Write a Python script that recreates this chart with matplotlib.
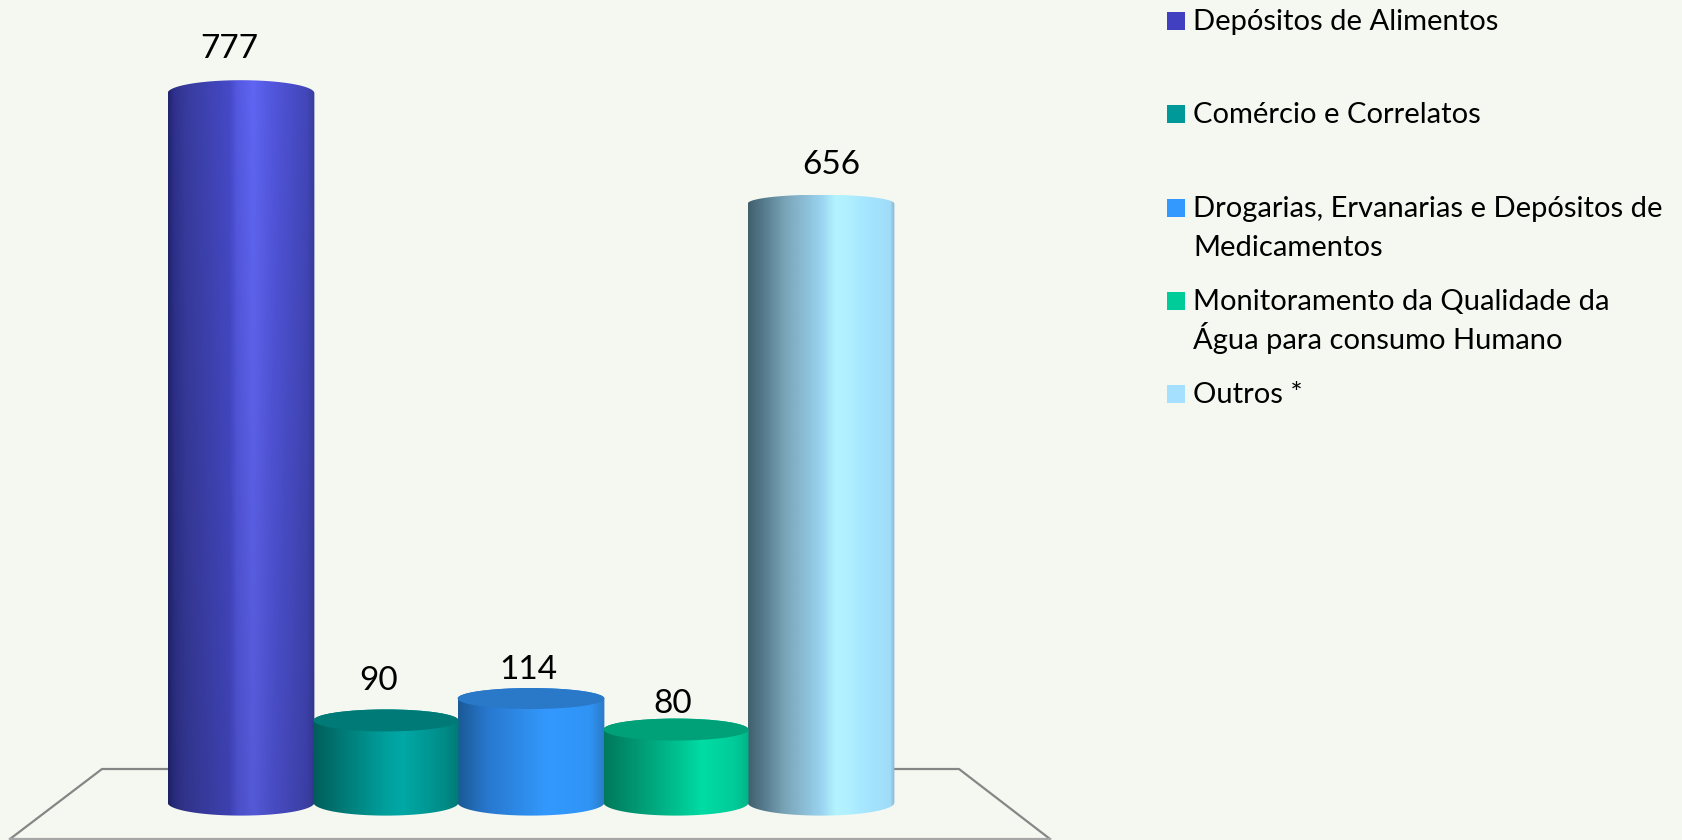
import numpy as np
import matplotlib
matplotlib.use("Agg")
import matplotlib.pyplot as plt
from matplotlib.colors import LinearSegmentedColormap
from matplotlib.patches import Ellipse, PathPatch, Rectangle
from matplotlib.path import Path
from matplotlib.lines import Line2D

plt.rcParams['font.family'] = ['Lato', 'DejaVu Sans']

# data
categories = ["Depósitos de Alimentos", "Comércio e Correlatos",
              "Drogarias, Ervanarias e Depósitos de\nMedicamentos",
              "Monitoramento da Qualidade da\nÁgua para consumo Humano", "Outros *"]
values = [777, 90, 114, 80, 656]
swatch_colors = ["#4040C0", "#009999", "#3399FF", "#00CC99", "#A6E0FF"]

# gradient across each cylinder
stops = [
    [(0, "#1f2266"), (.04, "#2a2d80"), (.12, "#33368f"), (.42, "#3f43b5"), (.47, "#4c50cc"),
     (.58, "#575cdc"), (.72, "#4a4ec8"), (.95, "#3c40a8"), (1, "#34378f")],
    [(0, "#005f5c"), (.2, "#007a76"), (.5, "#00a09d"), (.62, "#00a8a6"), (.9, "#008c88"), (1, "#007a76")],
    [(0, "#1b5a96"), (.2, "#2878cf"), (.5, "#3090f0"), (.62, "#3399ff"), (.9, "#3094f5"), (1, "#2a7cc8")],
    [(0, "#007a5c"), (.2, "#009470"), (.5, "#00c08f"), (.68, "#00dca5"), (.9, "#00cc99"), (1, "#00b488")],
    [(0, "#42606e"), (.1, "#557a8c"), (.25, "#7aa4b8"), (.5, "#9ad4f0"), (.6, "#b4f4ff"),
     (.68, "#b0f0ff"), (.8, "#a6e6ff"), (.97, "#a0dcf8"), (1, "#8cbcd8")],
]
cap_colors = [None, "#007a76", "#2a78c8", "#00a078", None]
top_px = [13, 11, 10.5, 11, 9]
bright_top = [1.1, 1, 1, 1, 1]
bright_bot = [0.97, 1, 1, 1, 1]

# label offsets from the bar centre, label centre height, px
label_dx = [-12, -7, -3, -3, 10]
label_y = [49, 681, 670, 704, 165]

# layout, px
W, H = 1682, 840
X0, STEP = 241, 145.0
Y0, SCALE = 802.6, 0.913
BG = "#F5F8F0"

fig = plt.figure(figsize=(W / 100, H / 100), dpi=100, facecolor=BG)
ax = fig.add_axes([0, 0, 1, 1])
ax.set_facecolor(BG)
ax.axis("off")


def px(x, y):
    # pixel position of the reference -> data coords
    return (x - X0) / STEP, (Y0 - y) / SCALE


# floor
floor = [(168, 769), (102, 769), (10, 839)]
floor2 = [(893, 769), (959, 769), (1050, 839)]
for pts in (floor, floor2):
    xy = np.array([px(*p) for p in pts])
    ax.add_line(Line2D(xy[:, 0], xy[:, 1], color="#868686", lw=1.6, zorder=1))
xy = np.array([px(10, 839.3), px(1050, 839.3)])
ax.add_line(Line2D(xy[:, 0], xy[:, 1], color="#a6a6a6", lw=1.6, zorder=1))

# cylinders, the even ones drawn a hair wider so no seam shows between neighbours
theta = np.linspace(0, np.pi, 60)
bot_semi = 13 / SCALE
for i, val in enumerate(values):
    semi = top_px[i] / SCALE
    hw = 0.5 if i % 2 else 0.506
    top_x = i + hw * np.cos(theta)
    top_y = val + semi * np.sin(theta)
    bot_x = i - hw * np.cos(theta)
    bot_y = -bot_semi * np.sin(theta)
    verts = np.column_stack([np.r_[top_x, bot_x, top_x[0]], np.r_[top_y, bot_y, top_y[0]]])
    outline = Path(verts, closed=False)
    cmap = LinearSegmentedColormap.from_list("c%d" % i, stops[i], N=256)
    grad = cmap(np.linspace(0, 1, 146))[None, :, :3]
    shade = np.linspace(bright_top[i], bright_bot[i], 64)[:, None, None]
    img = np.clip(grad * shade, 0, 1)
    z = 3 if i % 2 else 2
    im = ax.imshow(img, extent=(i - hw, i + hw, -bot_semi, val + semi), aspect="auto",
                   origin="upper", zorder=z, interpolation="bilinear")
    clip = PathPatch(outline, transform=ax.transData, fc="none", ec="none")
    ax.add_patch(clip)
    im.set_clip_path(clip)
    if cap_colors[i]:
        ax.add_patch(Ellipse((i, val), 2 * hw, 2 * semi, fc=cap_colors[i], ec="none", zorder=z))
    lx, ly = px(X0 + i * STEP + label_dx[i], label_y[i])
    ax.text(lx, ly, str(val), ha="center", va="center", fontsize=24, color="black", zorder=6)

ax.set_xlim(-X0 / STEP, (W - X0) / STEP)
ax.set_ylim((Y0 - H) / SCALE, Y0 / SCALE)

# legend, placed by hand because of its uneven spacing
baselines = [30, 123, 217, 310, 403]
line_gap = 39
for name, col, base in zip(categories, swatch_colors, baselines):
    ax_x, ax_y = px(1167, base)
    ax.add_patch(Rectangle((ax_x, ax_y), 18 / STEP, 18 / SCALE, fc=col, ec="none", zorder=5))
    for k, part in enumerate(name.split("\n")):
        tx, ty = px(1193, base + k * line_gap)
        ax.text(tx, ty, part, ha="left", va="baseline", fontsize=21, color="black", zorder=6)

fig.savefig("out.png", dpi=100, facecolor=BG)
